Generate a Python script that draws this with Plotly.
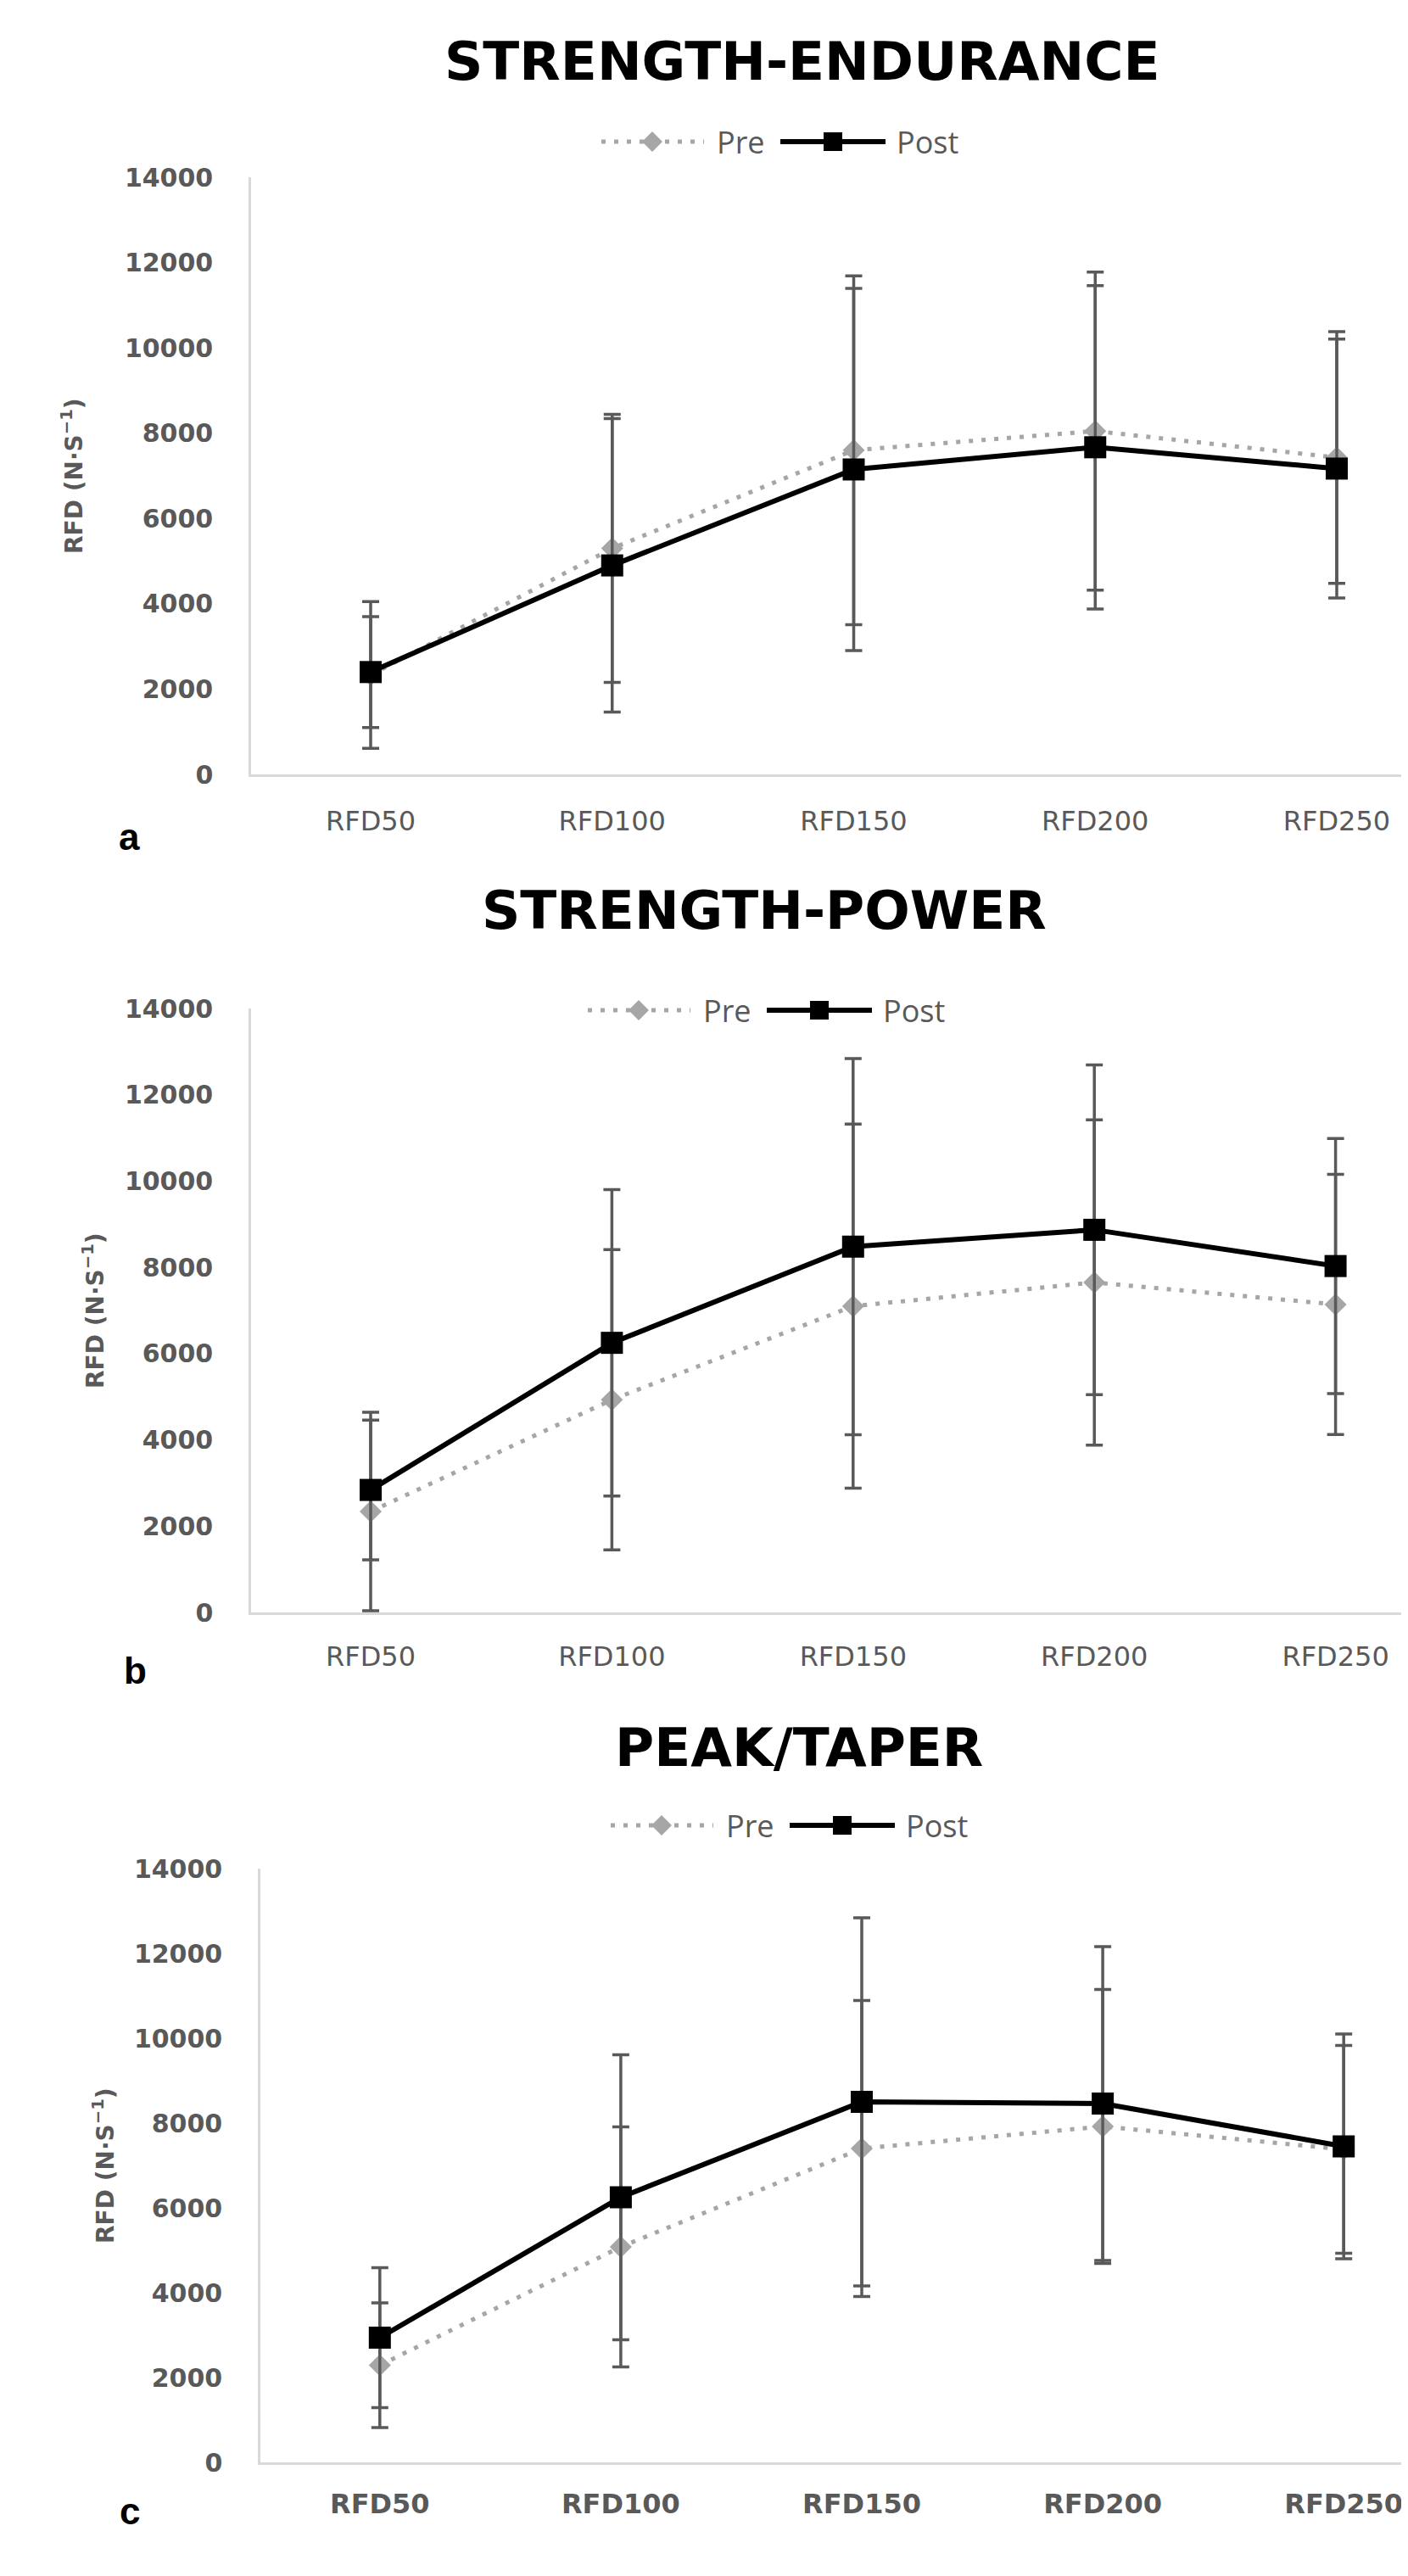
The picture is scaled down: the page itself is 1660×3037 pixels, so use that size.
import plotly.graph_objects as go

W, H = 1660, 3037
OFF = 8  # page body margin offset (page px = figure px + OFF)

categories = ["RFD50", "RFD100", "RFD150", "RFD200", "RFD250"]
y_ticks = [0, 2000, 4000, 6000, 8000, 10000, 12000, 14000]

titles = ["STRENGTH-ENDURANCE", "STRENGTH-POWER", "PEAK/TAPER"]
panel_letters = ["a", "b", "c"]

# Panel a: Strength-Endurance
a_pre = [2330, 5300, 7600, 8050, 7430]
a_pre_sd = [1720, 3140, 4090, 3730, 2950]
a_post = [2400, 4900, 7150, 7670, 7170]
a_post_sd = [1300, 3440, 4245, 3790, 3035]

# Panel b: Strength-Power
b_pre = [2340, 4930, 7100, 7650, 7140]
b_pre_sd = [2300, 3480, 4220, 3770, 3015]
b_post = [2840, 6250, 8480, 8870, 8030]
b_post_sd = [1620, 3550, 4360, 3820, 2956]

# Panel c: Peak/Taper
c_pre = [2290, 5080, 7400, 7920, 7380]
c_pre_sd = [1470, 2830, 3490, 3230, 2450]
c_post = [2940, 6250, 8500, 8460, 7450]
c_post_sd = [1650, 3360, 4340, 3700, 2650]

panels = [
    (a_pre, a_pre_sd, a_post, a_post_sd),
    (b_pre, b_pre_sd, b_post, b_post_sd),
    (c_pre, c_pre_sd, c_post, c_post_sd),
]

# layout geometry (page pixels)
plot_left = [296, 296, 307]
plot_top = [209, 1189, 2203]
plot_bottom = [913, 1901, 2903]
cat_first = [437, 437, 447.8]      # page x of first category
cat_step = [284.75, 284.4, 284.1]  # page px between categories
x_standoff = [25, 22, 19]
title_pos = [(946, 73), (901, 1073), (942, 2060)]
legend_pos = [(709, 167), (693, 1191), (720, 2152)]
ytitle_x = [85, 111, 122]
letter_pos = [(152, 987), (159, 1970), (153, 2960)]

GRAY_TXT = "#595959"
PRE_COL = "#a6a6a6"
ERR_COL = "#595959"


def fx(px):
    return (px - OFF) / W


def fy(py):
    return 1 - (py - OFF) / H


fig = go.Figure()
annotations = []
shapes = []

for i, (pre, pre_sd, post, post_sd) in enumerate(panels):
    k = "" if i == 0 else str(i + 1)
    xa, ya = "x" + k, "y" + k
    fig.add_trace(go.Scatter(
        x=categories, y=pre, name="Pre", mode="lines+markers",
        line=dict(color=PRE_COL, width=5, dash="5px,10px"),
        marker=dict(symbol="diamond", size=20, color=PRE_COL),
        error_y=dict(type="data", array=pre_sd, visible=True,
                     color=ERR_COL, thickness=3.5, width=10),
        xaxis=xa, yaxis=ya, showlegend=False))
    fig.add_trace(go.Scatter(
        x=categories, y=post, name="Post", mode="lines+markers",
        line=dict(color="#000000", width=6),
        marker=dict(symbol="square", size=26, color="#000000"),
        error_y=dict(type="data", array=post_sd, visible=True,
                     color=ERR_COL, thickness=3.5, width=10),
        xaxis=xa, yaxis=ya, showlegend=False))

    right_page = W + OFF
    xr = [(plot_left[i] - cat_first[i]) / cat_step[i],
          (right_page - cat_first[i]) / cat_step[i]]

    xkey = "xaxis" + k
    ykey = "yaxis" + k
    fig.layout[xkey] = dict(
        domain=[fx(plot_left[i]), 1.0], anchor=ya, type="category",
        range=xr, showline=True, linecolor="#d9d9d9", linewidth=2.5,
        showgrid=False, zeroline=False, ticks="", ticklabelstandoff=x_standoff[i],
        automargin=False,
        tickfont=dict(family="DejaVu Sans", size=32, color=GRAY_TXT,
                      weight="bold" if i == 2 else "normal"),
        fixedrange=True)
    fig.layout[ykey] = dict(
        domain=[fy(plot_bottom[i]), fy(plot_top[i])], anchor=xa,
        range=[0, 14000], tickvals=y_ticks, tickformat="d", showline=True,
        linecolor="#d9d9d9", linewidth=2.5, showgrid=False, zeroline=False,
        ticks="", ticklabelstandoff=36, automargin=False,
        tickfont=dict(family="DejaVu Sans", size=30, color=GRAY_TXT, weight="bold"),
        fixedrange=True)

    # title
    tx, ty = title_pos[i]
    annotations.append(dict(
        text=titles[i], x=fx(tx), y=fy(ty), xref="paper", yref="paper",
        xanchor="center", yanchor="middle", showarrow=False,
        font=dict(family="DejaVu Sans", size=63, color="#000000", weight="bold")))
    # y axis title
    mid = (plot_top[i] + plot_bottom[i]) / 2
    annotations.append(dict(
        text="RFD (N·S<sup>−1</sup>)", x=fx(ytitle_x[i]), y=fy(mid),
        xref="paper", yref="paper", xanchor="center", yanchor="middle",
        textangle=-90, showarrow=False,
        font=dict(family="DejaVu Sans", size=28, color=GRAY_TXT, weight="bold")))
    # panel letter
    lx, ly = letter_pos[i]
    annotations.append(dict(
        text=panel_letters[i], x=fx(lx), y=fy(ly), xref="paper", yref="paper",
        xanchor="center", yanchor="middle", showarrow=False,
        font=dict(family="Liberation Sans", size=44, color="#000000", weight="bold")))

    # legend (manual)
    L, LY = legend_pos[i]
    shapes.append(dict(type="line", xref="paper", yref="paper",
                       x0=fx(L), x1=fx(L + 121), y0=fy(LY), y1=fy(LY),
                       line=dict(color=PRE_COL, width=5, dash="5px,10px")))
    d = 12
    cx = L + 60
    shapes.append(dict(type="path", xref="paper", yref="paper",
                       path=f"M {fx(cx - d)} {fy(LY)} L {fx(cx)} {fy(LY - d)} "
                            f"L {fx(cx + d)} {fy(LY)} L {fx(cx)} {fy(LY + d)} Z",
                       fillcolor=PRE_COL, line=dict(width=0)))
    annotations.append(dict(
        text="Pre", x=fx(L + 134), y=fy(LY), xref="paper", yref="paper",
        xanchor="left", yanchor="middle", showarrow=False,
        font=dict(family="Open Sans", size=36, color=GRAY_TXT)))
    shapes.append(dict(type="line", xref="paper", yref="paper",
                       x0=fx(L + 211), x1=fx(L + 335), y0=fy(LY), y1=fy(LY),
                       line=dict(color="#000000", width=6)))
    s = 11
    sx = L + 273
    shapes.append(dict(type="rect", xref="paper", yref="paper",
                       x0=fx(sx - s), x1=fx(sx + s), y0=fy(LY - s), y1=fy(LY + s),
                       fillcolor="#000000", line=dict(width=0)))
    annotations.append(dict(
        text="Post", x=fx(L + 346), y=fy(LY), xref="paper", yref="paper",
        xanchor="left", yanchor="middle", showarrow=False,
        font=dict(family="Open Sans", size=36, color=GRAY_TXT)))

fig.update_layout(
    template="none",
    width=W, height=H, margin=dict(l=0, r=0, t=0, b=0, pad=0, autoexpand=False),
    paper_bgcolor="white", plot_bgcolor="white",
    annotations=annotations, shapes=shapes, showlegend=False)

fig.write_html("out.html")
